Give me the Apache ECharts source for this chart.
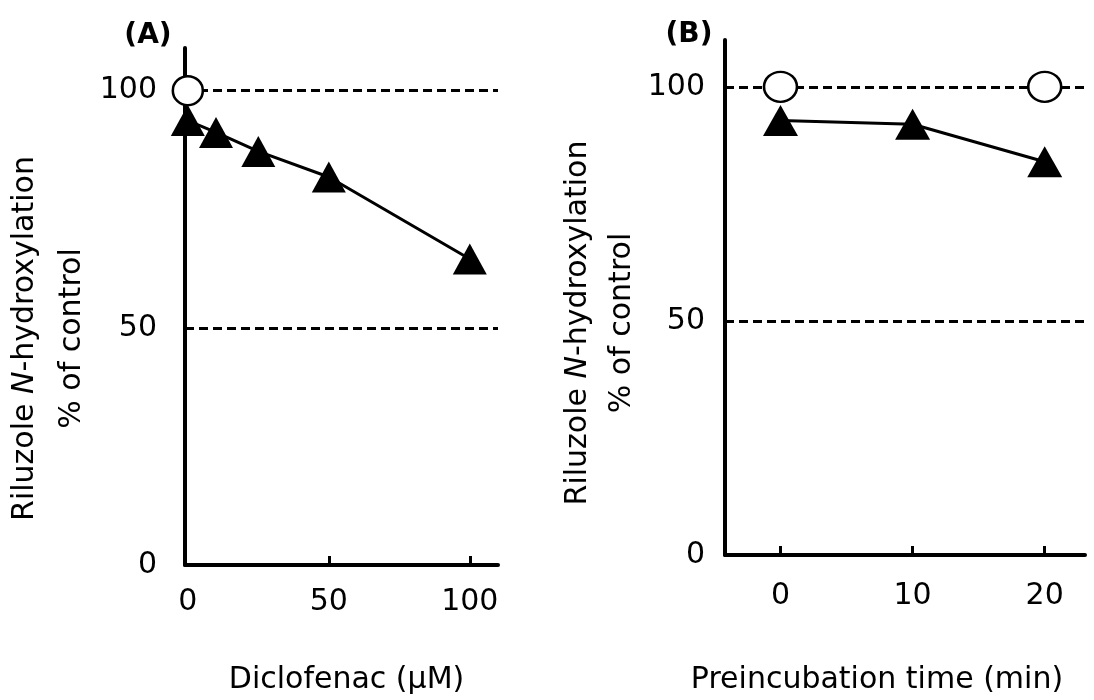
<!DOCTYPE html>
<html>
<head>
<meta charset="utf-8">
<script src="https://cdn.jsdelivr.net/npm/echarts@6/dist/echarts.min.js"></script>
<style>
body{margin:0;background:#fff}
#chart{width:1094px;height:700px}
</style>
</head>
<body>
<div id="chart"></div>
<script>
// panel A - diclofenac concentration
var diclofenacConc = [0, 10, 25, 50, 100];
var diclofenacActivity = [93.7, 91.2, 87.2, 81.8, 64.5];
var controlConcA = [0];
var controlActivityA = [100];
// panel B - preincubation time
var preincTime = [0, 10, 20];
var preincActivity = [92.8, 92.0, 84.0];
var controlTimeB = [0, 20];
var controlActivityB = [100, 100];
// ticks
var xTicksA = [0, 50, 100];
var xTicksB = [0, 10, 20];
var yTicks = [0, 50, 100];
var refLines = [100, 50];

var font = 'DejaVu Sans';

function pairs(xs, ys){
  var out = [];
  for (var i = 0; i < xs.length; i++) out.push([xs[i], ys[i]]);
  return out;
}

var yName = 'Riluzole {n|N}-hydroxylation\n% of control';

function yAxisOpt(gridIndex, max, margin, gap, lh, shift){
  return {
    gridIndex: gridIndex, type: 'value', min: 0, max: max,
    axisLine: {show: true, onZero: false, lineStyle: {color: '#000', width: 4}},
    axisTick: {show: true, inside: true, length: 8, lineStyle: {color: '#000', width: 3}, customValues: [50, 100]},
    axisLabel: {color: '#000', fontSize: 30, fontFamily: font, margin: margin, customValues: yTicks},
    splitLine: {show: false},
    name: yName, nameLocation: 'middle', nameGap: gap,
    nameTextStyle: {
      color: '#000', fontSize: 30, fontFamily: font, lineHeight: lh, align: 'center',
      padding: [0, shift, 0, 0],
      rich: {n: {fontStyle: 'italic', fontSize: 30, fontFamily: font, color: '#000', lineHeight: lh}}
    }
  };
}

function xAxisOpt(gridIndex, min, max, ticks, tickVals, margin, name, gap, pad){
  return {
    gridIndex: gridIndex, type: 'value', min: min, max: max,
    axisLine: {show: true, onZero: false, lineStyle: {color: '#000', width: 4}},
    axisTick: {show: true, inside: true, length: 9, lineStyle: {color: '#000', width: 3}, customValues: tickVals},
    axisLabel: {color: '#000', fontSize: 30, fontFamily: font, margin: margin, customValues: ticks},
    splitLine: {show: false},
    name: name, nameLocation: 'middle', nameGap: gap,
    nameTextStyle: {color: '#000', fontSize: 30, fontFamily: font, padding: pad}
  };
}

var dashStyle = {color: '#000', width: 3, type: [9, 5]};

var chart = echarts.init(document.getElementById('chart'));
var option = {
  backgroundColor: '#fff',
  animation: false,
  title: [
    {text: '(A)', left: 143, top: 17, textAlign: 'center',
     textStyle: {fontSize: 28, fontWeight: 'bold', fontFamily: font, color: '#000'}},
    {text: '(B)', left: 684, top: 16, textAlign: 'center',
     textStyle: {fontSize: 28, fontWeight: 'bold', fontFamily: font, color: '#000'}}
  ],
  grid: [
    {left: 185, right: 596, top: 48, bottom: 135},
    {left: 725, right: 9, top: 40, bottom: 143}
  ],
  xAxis: [
    xAxisOpt(0, -1, 110, xTicksA, [50, 100], 22, 'Diclofenac (μM)', 100, [0, 0, 0, 10]),
    xAxisOpt(1, -4.2, 23.05, xTicksB, xTicksB, 26, 'Preincubation time (min)', 110, [0, 56, 0, 0])
  ],
  yAxis: [
    yAxisOpt(0, 109, 28, 85, 47, 64),
    yAxisOpt(1, 110, 20, 68, 44, 51)
  ],
  series: [
    {
      type: 'line', xAxisIndex: 0, yAxisIndex: 0,
      data: pairs(diclofenacConc, diclofenacActivity),
      symbol: 'triangle', symbolSize: [34, 31],
      lineStyle: {color: '#000', width: 3},
      itemStyle: {color: '#000'},
      z: 3,
      markLine: {
        silent: true, symbol: 'none', label: {show: false},
        lineStyle: dashStyle,
        data: refLines.map(function(v){ return {yAxis: v}; })
      }
    },
    {
      type: 'scatter', xAxisIndex: 0, yAxisIndex: 0,
      data: pairs(controlConcA, controlActivityA),
      symbol: 'circle', symbolSize: [30, 29],
      itemStyle: {color: '#fff', borderColor: '#000', borderWidth: 2.5, opacity: 1},
      z: 5
    },
    {
      type: 'line', xAxisIndex: 1, yAxisIndex: 1,
      data: pairs(preincTime, preincActivity),
      symbol: 'triangle', symbolSize: [35, 31],
      lineStyle: {color: '#000', width: 3},
      itemStyle: {color: '#000'},
      z: 3,
      markLine: {
        silent: true, symbol: 'none', label: {show: false},
        lineStyle: dashStyle,
        data: refLines.map(function(v){ return {yAxis: v}; })
      }
    },
    {
      type: 'scatter', xAxisIndex: 1, yAxisIndex: 1,
      data: pairs(controlTimeB, controlActivityB),
      symbol: 'circle', symbolSize: [33, 30],
      itemStyle: {color: '#fff', borderColor: '#000', borderWidth: 2.5, opacity: 1},
      z: 5
    }
  ]
};
chart.setOption(option);
</script>
</body>
</html>
